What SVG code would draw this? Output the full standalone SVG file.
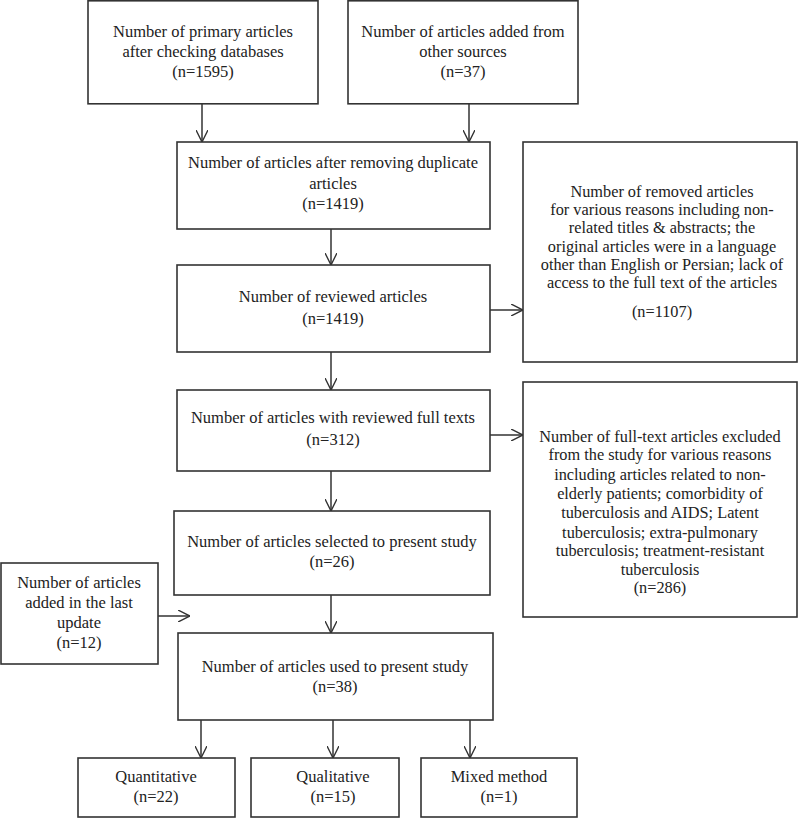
<svg xmlns="http://www.w3.org/2000/svg" width="798" height="818" viewBox="0 0 798 818">
<defs>
<marker id="arr" viewBox="0 0 12 12" refX="12" refY="6" markerWidth="12" markerHeight="12" markerUnits="userSpaceOnUse" orient="auto">
<path d="M0,0 L12,6 L0,12" fill="none" stroke="#333" stroke-width="1.4"/>
</marker>
<style>
rect{fill:#fff;stroke:#333;stroke-width:1.6}
text{font-family:"Liberation Serif","DejaVu Serif",serif;font-size:16.5px;fill:#222;text-anchor:middle}
.s{font-size:16.3px}
.c line{stroke:#333;stroke-width:1.5;marker-end:url(#arr)}
</style>
</defs>
<rect width="798" height="818" style="fill:#fff;stroke:none"/>
<g id="n1"><rect x="88" y="0.8" width="230" height="103"/>
<text x="203" y="37">Number of primary articles</text><text x="203" y="57">after checking databases</text><text x="203" y="77">(n=1595)</text></g>
<g id="n2"><rect x="348" y="0.8" width="230" height="103"/>
<text x="463" y="37">Number of articles added from</text><text x="463" y="57">other sources</text><text x="463" y="77">(n=37)</text></g>
<g id="n3"><rect x="177" y="142" width="313" height="87"/>
<text x="333" y="168">Number of articles after removing duplicate</text><text x="333" y="189">articles</text><text x="333" y="209">(n=1419)</text></g>
<g id="n4"><rect x="177" y="265" width="313" height="87"/>
<text x="333" y="302">Number of reviewed articles</text><text x="333" y="324">(n=1419)</text></g>
<g id="n5"><rect x="177" y="390" width="313" height="81"/>
<text x="333" y="423">Number of articles with reviewed full texts</text><text x="333" y="445">(n=312)</text></g>
<g id="n6"><rect x="174" y="511" width="316" height="84"/>
<text x="332" y="547">Number of articles selected to present study</text><text x="332" y="567">(n=26)</text></g>
<g id="n7"><rect x="178" y="633" width="315" height="87"/>
<text x="335" y="672">Number of articles used to present study</text><text x="335" y="692">(n=38)</text></g>
<g id="nL"><rect x="1" y="563" width="157" height="101"/>
<text x="79" y="588">Number of articles</text><text x="79" y="608">added in the last</text><text x="79" y="628">update</text><text x="79" y="648">(n=12)</text></g>
<g id="nA"><rect x="523" y="142" width="274" height="220"/>
<text x="662" y="197" class="s">Number of removed articles</text><text x="662" y="215" class="s">for various reasons including non-</text><text x="662" y="233" class="s">related titles &amp; abstracts; the</text><text x="662" y="252" class="s">original articles were in a language</text><text x="662" y="270" class="s">other than English or Persian; lack of</text><text x="662" y="288" class="s">access to the full text of the articles</text><text x="662" y="317" class="s">(n=1107)</text></g>
<g id="nB"><rect x="523" y="382" width="274" height="235"/>
<text x="660" y="442" class="s">Number of full-text articles excluded</text><text x="660" y="460" class="s">from the study for various reasons</text><text x="660" y="480" class="s">including articles related to non-</text><text x="660" y="499" class="s">elderly patients; comorbidity of</text><text x="660" y="518" class="s">tuberculosis and AIDS; Latent</text><text x="660" y="538" class="s">tuberculosis; extra-pulmonary</text><text x="660" y="556" class="s">tuberculosis; treatment-resistant</text><text x="660" y="575" class="s">tuberculosis</text><text x="660" y="593" class="s">(n=286)</text></g>
<g id="q1"><rect x="78" y="758" width="157" height="59"/>
<text x="156" y="782">Quantitative</text><text x="156" y="802">(n=22)</text></g>
<g id="q2"><rect x="251" y="758" width="148" height="59"/>
<text x="333" y="782">Qualitative</text><text x="333" y="802">(n=15)</text></g>
<g id="q3"><rect x="421" y="758" width="156" height="59"/>
<text x="499" y="782">Mixed method</text><text x="499" y="802">(n=1)</text></g>
<g class="c" id="connectors">
<line x1="202" y1="104" x2="202" y2="142"/>
<line x1="469" y1="104" x2="469" y2="142"/>
<line x1="331" y1="229" x2="331" y2="265"/>
<line x1="490" y1="310" x2="523" y2="310"/>
<line x1="331" y1="352" x2="331" y2="390"/>
<line x1="490" y1="435" x2="523" y2="435"/>
<line x1="331" y1="471" x2="331" y2="511"/>
<line x1="331" y1="595" x2="331" y2="633"/>
<line x1="158" y1="616" x2="190" y2="616"/>
<line x1="201" y1="720" x2="201" y2="758"/>
<line x1="333" y1="720" x2="333" y2="758"/>
<line x1="470" y1="720" x2="470" y2="758"/>
</g>
</svg>
